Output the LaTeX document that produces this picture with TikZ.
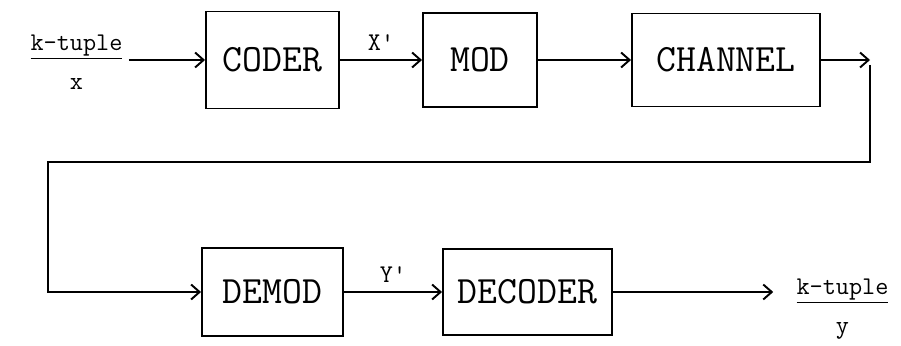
\documentclass[tikz,border=0pt]{standalone}
\usepackage{tikz}
\usetikzlibrary{
    arrows.meta,
    calc,
}

\begin{document}
\begin{tikzpicture}[
        blk/.style={draw, line width=1.1pt, inner sep=0pt, font=\ttfamily\fontsize{22}{26}\selectfont},
        lbl/.style={inner sep=0pt, align=center, font=\ttfamily\fontsize{14.5}{17}\selectfont},
        flow/.style={line width=1.1pt, -{Straight Barb[length=1.7mm, width=3mm, line width=1.1pt]}},
    ]
        \useasboundingbox (0,0) rectangle (18.02,6.9);
        % top row
        \node[lbl] (inX) at (1.53,5.66) {\underline{k-tuple}\\[5pt]x};
        \node[blk, minimum width=2.66cm, minimum height=1.94cm] (CODER) at (5.45,5.7) {CODER};
        \node[blk, minimum width=2.28cm, minimum height=1.88cm] (MOD) at (9.6,5.7) {MOD};
        \node[blk, minimum width=3.76cm, minimum height=1.86cm] (CHANNEL) at (14.52,5.7) {CHANNEL};
        % bottom row
        \node[blk, minimum width=2.82cm, minimum height=1.76cm] (DEMOD) at (5.45,1.06) {DEMOD};
        \node[blk, minimum width=3.38cm, minimum height=1.72cm] (DECODER) at (10.55,1.06) {DECODER};
        \node[lbl] (outY) at (16.85,0.72) {\underline{k-tuple}\\[5pt]y};
        % turning points of the return line
        \coordinate (loopTop) at (17.4,5.7);
        \coordinate (loopR) at (17.4,3.66);
        \coordinate (loopL) at (0.96,3.66);
        \draw[flow, shorten <=0.12cm] (inX.east |- CODER.west) -- (CODER.west);
        \draw[flow] (CODER.east) -- node[lbl, above=5pt] {X\textquotesingle} (MOD.west);
        \draw[flow] (MOD.east) -- (CHANNEL.west);
        \draw[flow] (CHANNEL.east) -- (loopTop);
        \draw[flow] ($(loopTop)+(0,-0.1)$) -- (loopR) -- (loopL) |- (DEMOD.west);
        \draw[flow] (DEMOD.east) -- node[lbl, above=5pt] {Y\textquotesingle} (DECODER.west);
        \draw[flow, shorten >=0.46cm] (DECODER.east) -- (outY.west |- DECODER.east);
    \end{tikzpicture}
\end{document}
